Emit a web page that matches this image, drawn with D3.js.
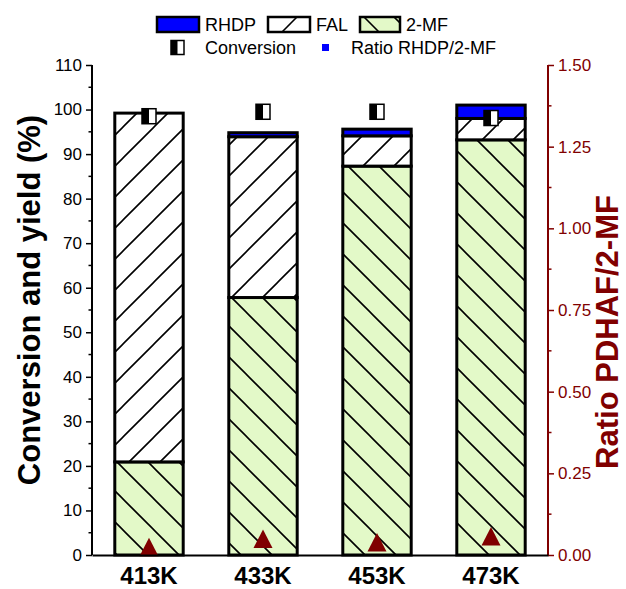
<!DOCTYPE html>
<html>
<head>
<meta charset="utf-8">
<script src="https://cdn.jsdelivr.net/npm/d3@7"></script>
<style>
  body { margin: 0; background: #fff; }
  text { font-family: Arial, "Liberation Sans", sans-serif; }
</style>
</head>
<body>
<div id="chart"></div>
<script>
// data
const temps = ["413K", "433K", "453K", "473K"];
const mf2 = [20.9, 57.8, 87.3, 93.2];       // 2-MF yield
const fal = [78.3, 36.1, 6.8, 4.8];         // FAL
const rhdp = [0, 0.9, 1.5, 3.0];            // RHDP
const conversion = [98.5, 99.5, 99.5, 98.1];
const ratio = [0.024, 0.049, 0.038, 0.057]; // right axis
const leftTicks = d3.range(0, 111, 10);
const rightTicks = [0, 0.25, 0.5, 0.75, 1.0, 1.25, 1.5];

const W = 626, H = 589;
const margin = {top: 65, right: 78, bottom: 34, left: 92};
const width = W - margin.left - margin.right;
const height = H - margin.top - margin.bottom;
const darkRed = "#800000";

const svg = d3.select("#chart").append("svg")
    .attr("width", W).attr("height", H);

// hatch patterns
const defs = svg.append("defs");
const fwd = defs.append("pattern").attr("id", "hatchFal")
    .attr("patternUnits", "userSpaceOnUse").attr("width", 31).attr("height", 31);
fwd.append("rect").attr("width", 31).attr("height", 31).attr("fill", "#fff");
fwd.append("path").attr("d", "M-2,2 L2,-2 M0,31 L31,0 M29,33 L33,29")
    .attr("stroke", "#000").attr("stroke-width", 1.6);
const back = defs.append("pattern").attr("id", "hatchMf")
    .attr("patternUnits", "userSpaceOnUse").attr("width", 31).attr("height", 31);
back.append("rect").attr("width", 31).attr("height", 31).attr("fill", "#e3f9c8");
back.append("path").attr("d", "M-2,29 L2,33 M0,0 L31,31 M29,-2 L33,2")
    .attr("stroke", "#000").attr("stroke-width", 1.6);

const g = svg.append("g").attr("transform", `translate(${margin.left},${margin.top})`);

const x = d3.scaleBand().domain(temps).range([0, width]).paddingInner(0.4).paddingOuter(0.2);
const y = d3.scaleLinear().domain([0, 110]).range([height, 0]);
const y2 = d3.scaleLinear().domain([0, 1.5]).range([height, 0]);

// stacked data
const rows = temps.map((t, i) => ({temp: t, mf: mf2[i], fal: fal[i], rhdp: rhdp[i]}));
const series = d3.stack().keys(["mf", "fal", "rhdp"])(rows);
const fills = {mf: "url(#hatchMf)", fal: "url(#hatchFal)", rhdp: "#0000ff"};

series.forEach(s => {
    g.append("g").selectAll("rect")
        .data(s.filter(d => d[1] - d[0] > 0))
        .enter().append("rect")
        .attr("x", d => x(d.data.temp))
        .attr("width", x.bandwidth())
        .attr("y", d => y(d[1]))
        .attr("height", d => y(d[0]) - y(d[1]))
        .attr("fill", fills[s.key])
        .attr("stroke", "#000")
        .attr("stroke-width", 3);
});

// conversion markers (half filled squares)
const convG = g.append("g").selectAll("g").data(conversion).enter().append("g")
    .attr("transform", (d, i) => `translate(${x(temps[i]) + x.bandwidth() / 2},${y(d)})`);
convG.append("rect").attr("x", -7).attr("y", -7.5).attr("width", 14).attr("height", 15)
    .attr("fill", "#fff").attr("stroke", "#000").attr("stroke-width", 1.5);
convG.append("rect").attr("x", -7).attr("y", -7.5).attr("width", 7).attr("height", 15)
    .attr("fill", "#000");

// ratio triangles
g.append("g").selectAll("path").data(ratio).enter().append("path")
    .attr("d", "M0,-9.5 L9.5,9 L-9.5,9 Z")
    .attr("transform", (d, i) => `translate(${x(temps[i]) + x.bandwidth() / 2},${y2(d)})`)
    .attr("fill", darkRed);

// left axis
const yAxis = g.append("g")
    .call(d3.axisLeft(y).tickValues(leftTicks).tickSize(6).tickPadding(4));
yAxis.select(".domain").attr("stroke-width", 2).attr("d", `M0,${height}V0`);
yAxis.selectAll(".tick line").attr("stroke-width", 1.5);
yAxis.selectAll(".tick text").attr("font-size", 17).attr("fill", "#000");
g.append("g").selectAll("line").data(d3.range(5, 110, 10)).enter().append("line")
    .attr("x1", -3.5).attr("x2", 0).attr("y1", d => y(d)).attr("y2", d => y(d))
    .attr("stroke", "#000").attr("stroke-width", 1.5);

// right axis
const yAxis2 = g.append("g").attr("transform", `translate(${width},0)`)
    .call(d3.axisRight(y2).tickValues(rightTicks).tickFormat(d3.format(".2f")).tickSize(6).tickPadding(4));
yAxis2.select(".domain").attr("stroke", darkRed).attr("stroke-width", 2).attr("d", `M0,${height}V0`);
yAxis2.selectAll(".tick line").attr("stroke", darkRed).attr("stroke-width", 1.5);
yAxis2.selectAll(".tick text").attr("font-size", 17).attr("fill", darkRed);
g.append("g").selectAll("line").data(d3.range(0.125, 1.5, 0.25)).enter().append("line")
    .attr("x1", 0).attr("x2", 3.5).attr("y1", d => y2(d)).attr("y2", d => y2(d))
    .attr("transform", `translate(${width},0)`)
    .attr("stroke", darkRed).attr("stroke-width", 1.5);

// x axis
const xAxis = g.append("g").attr("transform", `translate(0,${height})`)
    .call(d3.axisBottom(x).tickSize(0).tickPadding(12));
xAxis.select(".domain").attr("stroke-width", 2);
xAxis.selectAll(".tick text").attr("font-size", 24).attr("font-weight", "bold")
    .attr("fill", "#000").attr("dy", "0.71em");

// axis titles
svg.append("text")
    .attr("transform", `translate(40,${margin.top + height / 2 - 10}) rotate(-90)`)
    .attr("text-anchor", "middle").attr("font-size", 31).attr("font-weight", "bold")
    .text("Conversion and yield (%)");
svg.append("text")
    .attr("transform", `translate(618,332) rotate(-90)`)
    .attr("text-anchor", "middle").attr("font-size", 31).attr("font-weight", "bold")
    .attr("fill", darkRed)
    .text("Ratio PDHAF/2-MF");

// legend
const leg = svg.append("g");
const boxes = [
    {label: "RHDP", fill: "#0000ff", x: 157, w: 42},
    {label: "FAL", fill: "url(#hatchFal)", x: 268, w: 42},
    {label: "2-MF", fill: "url(#hatchMf)", x: 360, w: 40}
];
boxes.forEach(b => {
    const pid = b.label === "FAL" ? "legFal" : "legMf";
    let fill = b.fill;
    if (b.label !== "RHDP") {
        // a single stroke inside the legend swatch
        const p = defs.append("pattern").attr("id", pid)
            .attr("patternUnits", "userSpaceOnUse").attr("x", b.x).attr("y", 17)
            .attr("width", b.w).attr("height", 15);
        p.append("rect").attr("width", b.w).attr("height", 15)
            .attr("fill", b.label === "FAL" ? "#fff" : "#e3f9c8");
        p.append("path")
            .attr("d", b.label === "FAL" ? `M${b.w / 2 - 7},15 L${b.w / 2 + 8},0` : `M4,0 L19,15 M${b.w - 6},0 L${b.w},6`)
            .attr("stroke", "#000").attr("stroke-width", 1.6);
        fill = `url(#${pid})`;
    }
    leg.append("rect").attr("x", b.x).attr("y", 17).attr("width", b.w).attr("height", 15)
        .attr("fill", fill).attr("stroke", "#000").attr("stroke-width", 2.5);
    leg.append("text").attr("x", b.x + b.w + 6).attr("y", 31).attr("font-size", 18).text(b.label);
});
leg.append("rect").attr("x", 171).attr("y", 40.5).attr("width", 13).attr("height", 14)
    .attr("fill", "#fff").attr("stroke", "#000").attr("stroke-width", 1.5);
leg.append("rect").attr("x", 171).attr("y", 40.5).attr("width", 6.5).attr("height", 14).attr("fill", "#000");
leg.append("text").attr("x", 205).attr("y", 54).attr("font-size", 18).text("Conversion");
leg.append("rect").attr("x", 322).attr("y", 44).attr("width", 7).attr("height", 7).attr("fill", "#0000ff");
leg.append("text").attr("x", 351).attr("y", 54).attr("font-size", 18).text("Ratio RHDP/2-MF");
</script>
</body>
</html>
